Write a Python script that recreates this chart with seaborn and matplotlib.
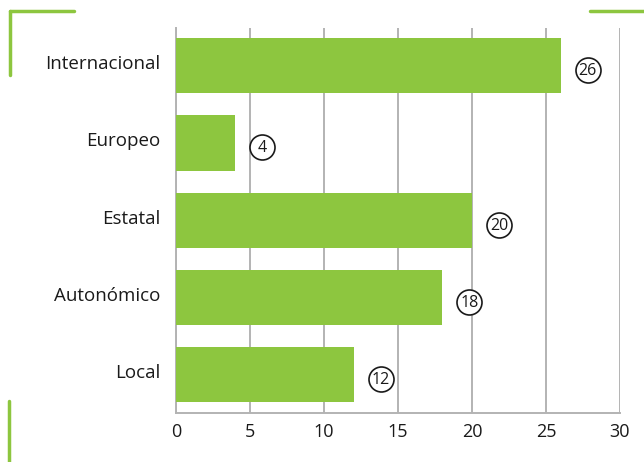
import matplotlib
matplotlib.use("Agg")
import matplotlib.pyplot as plt
import matplotlib.transforms as mtransforms
import pandas as pd
import seaborn as sns
from matplotlib.lines import Line2D

categories = ["Internacional", "Europeo", "Estatal", "Autonómico", "Local"]
values = [26, 4, 20, 18, 12]
xticks = [0, 5, 10, 15, 20, 25, 30]

green = "#8DC63F"
grey = "#b3b3b3"

df = pd.DataFrame({"Ambito": categories, "Valor": values})

sns.set_style("white")
plt.rcParams["font.family"] = ["Open Sans", "DejaVu Sans"]

fig = plt.figure(figsize=(6.44, 4.62), dpi=100)
ax = fig.add_axes([176 / 644, 1 - 413 / 462, 444 / 644, 385 / 462])

sns.barplot(data=df, x="Valor", y="Ambito", color=green, width=0.714,
            saturation=1, linewidth=0, edgecolor="none", ax=ax, zorder=3)

ax.set_xlim(0, 30)
ax.set_ylim(4.5, -0.49)
ax.set_xticks(xticks)
ax.set_xlabel("")
ax.set_ylabel("")
ax.grid(axis="x", color=grey, linewidth=1.4, zorder=0)
for s in ["top", "right"]:
    ax.spines[s].set_visible(False)
for s in ["left", "bottom"]:
    ax.spines[s].set_color(grey)
    ax.spines[s].set_linewidth(1.4)
ax.tick_params(axis="x", length=0, pad=7, labelsize=13, colors="#1a1a1a")
ax.tick_params(axis="y", length=0, pad=11, labelsize=13.5, colors="#1a1a1a")

# category labels sit a little above the bar centre
up = mtransforms.ScaledTranslation(0, 0.035, fig.dpi_scale_trans)
for lab in ax.get_yticklabels():
    lab.set_transform(lab.get_transform() + up)

# circled value labels, fixed circle size
ring = mtransforms.offset_copy(ax.transData, fig=fig, x=27, y=-4.5, units="dots")
num = mtransforms.offset_copy(ax.transData, fig=fig, x=27, y=-5.5, units="dots")
for i, v in enumerate(values):
    ax.scatter([v], [i], s=18 ** 2, facecolor="white", edgecolor="#1a1a1a",
               linewidth=1.2, transform=ring, zorder=5, clip_on=False)
    ax.text(v, i, str(v), transform=num, ha="center", va="center",
            fontsize=11.5, color="#1a1a1a", zorder=6)

# decorative green corner lines
W, H = 644, 462
def fl(x0, y0, x1, y1):
    fig.add_artist(Line2D([x0 / W, x1 / W], [1 - y0 / H, 1 - y1 / H],
                          color=green, lw=2.5, transform=fig.transFigure))
fl(10, 11, 74, 11)
fl(10, 11, 10, 75)
fl(590, 11, 644, 11)
fl(9, 401, 9, 462)

fig.savefig("out.png", dpi=100)
